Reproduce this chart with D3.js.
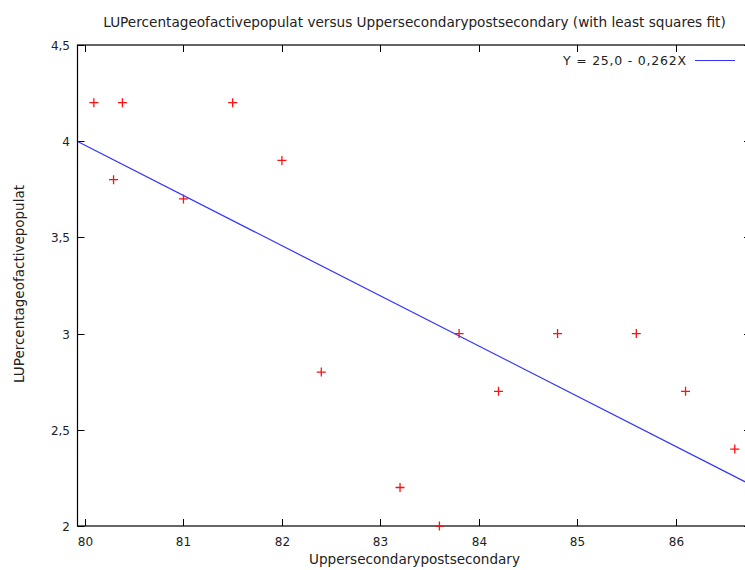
<!DOCTYPE html>
<html><head><meta charset="utf-8">
<script src="https://cdn.jsdelivr.net/npm/d3@7"></script>
<style>body{margin:0;background:#fff}svg{display:block}text{font-family:"DejaVu Sans",Verdana,sans-serif;fill:#222}</style>
</head><body>
<script>
const xValues = [80.09, 80.38, 80.29, 81.0, 81.5, 82.0, 82.4, 83.2, 83.6, 83.8, 84.2, 84.8, 85.6, 86.1, 86.6];
const yValues = [4.2, 4.2, 3.8, 3.7, 4.2, 3.9, 2.8, 2.2, 2.0, 3.0, 2.7, 3.0, 3.0, 2.7, 2.4];
const fitX = [79.93, 86.75];
const fitY = [3.997, 2.218];
const xTicks = [80, 81, 82, 83, 84, 85, 86];
const yTicks = [2, 2.5, 3, 3.5, 4, 4.5];
const titleText = "LUPercentageofactivepopulat versus Uppersecondarypostsecondary (with least squares fit)";
const xLabel = "Uppersecondarypostsecondary";
const yLabel = "LUPercentageofactivepopulat";
const legendText = "Y = 25,0 - 0,262X";

(function () {
const W = 745, H = 570;
const pLeft = 77.5, pTop = 45, pBottom = 526, pRight = 751;
const svg = d3.select("body").append("svg").attr("width", W).attr("height", H);
const x = d3.scaleLinear().domain([80, 86]).range([85, 675.7]);
const y = d3.scaleLinear().domain([2, 4.5]).range([pBottom, pTop]);
const fmt = d => String(d).replace(".", ",");

svg.append("rect").attr("x", pLeft).attr("y", pTop).attr("width", pRight - pLeft).attr("height", pBottom - pTop)
  .attr("fill", "none").attr("stroke", "#000").attr("stroke-width", 1.2);

const tl = 7;
const g = svg.append("g");
xTicks.forEach(t => {
  const px = Math.round(x(t)) + 0.5;
  g.append("line").attr("x1", px).attr("x2", px).attr("y1", pBottom).attr("y2", pBottom - tl).attr("stroke", "#000");
  g.append("line").attr("x1", px).attr("x2", px).attr("y1", pTop).attr("y2", pTop + tl).attr("stroke", "#000");
  g.append("text").attr("x", px).attr("y", 546).attr("text-anchor", "middle").style("font-size", "12px").text(fmt(t));
});
yTicks.forEach(t => {
  const py = Math.round(y(t)) + 0.5;
  g.append("line").attr("x1", pLeft).attr("x2", pLeft + tl).attr("y1", py).attr("y2", py).attr("stroke", "#000");
  g.append("line").attr("x1", pRight).attr("x2", pRight - tl).attr("y1", py).attr("y2", py).attr("stroke", "#000");
  g.append("text").attr("x", 70).attr("y", py + 4.5).attr("text-anchor", "end").style("font-size", "12px").text(fmt(t));
});

svg.append("clipPath").attr("id", "plotclip").append("rect").attr("x", pLeft).attr("y", pTop).attr("width", pRight - pLeft).attr("height", pBottom - pTop);
svg.append("line").attr("clip-path", "url(#plotclip)")
  .attr("x1", x(fitX[0])).attr("y1", y(fitY[0])).attr("x2", x(fitX[1])).attr("y2", y(fitY[1]))
  .attr("stroke", "#3333ff").attr("stroke-width", 1.2);

const s = 4.5;
svg.append("g").selectAll("path").data(xValues).join("path")
  .attr("d", (xv, i) => {
    const px = x(xv), py = y(yValues[i]);
    return `M${px - s},${py}H${px + s}M${px},${py - s}V${py + s}`;
  })
  .attr("fill", "none").attr("stroke", "#ff1010").attr("stroke-width", 1.3);

svg.append("text").attr("x", 563).attr("y", 64.5).attr("textLength", 123).attr("lengthAdjust", "spacing")
  .style("font-size", "12.5px").text(legendText);
svg.append("line").attr("x1", 695).attr("x2", 735).attr("y1", 60.5).attr("y2", 60.5).attr("stroke", "#3333ff").attr("stroke-width", 1.2);

const t1 = svg.append("text").attr("x", 414.5).attr("y", 27).attr("text-anchor", "middle").style("font-size", "12px").text(titleText);
t1.style("font-size", (12 * 623 / t1.node().getComputedTextLength()).toFixed(2) + "px");
const xl = svg.append("text").attr("x", 414.5).attr("y", 564).attr("text-anchor", "middle").style("font-size", "12px").text(xLabel);
xl.style("font-size", (12 * 211 / xl.node().getComputedTextLength()).toFixed(2) + "px");
const yl = svg.append("text").attr("transform", "translate(24,284) rotate(-90)").attr("text-anchor", "middle").style("font-size", "12px").text(yLabel);
yl.style("font-size", (12 * 198 / yl.node().getComputedTextLength()).toFixed(2) + "px");
})();
</script>
</body></html>
